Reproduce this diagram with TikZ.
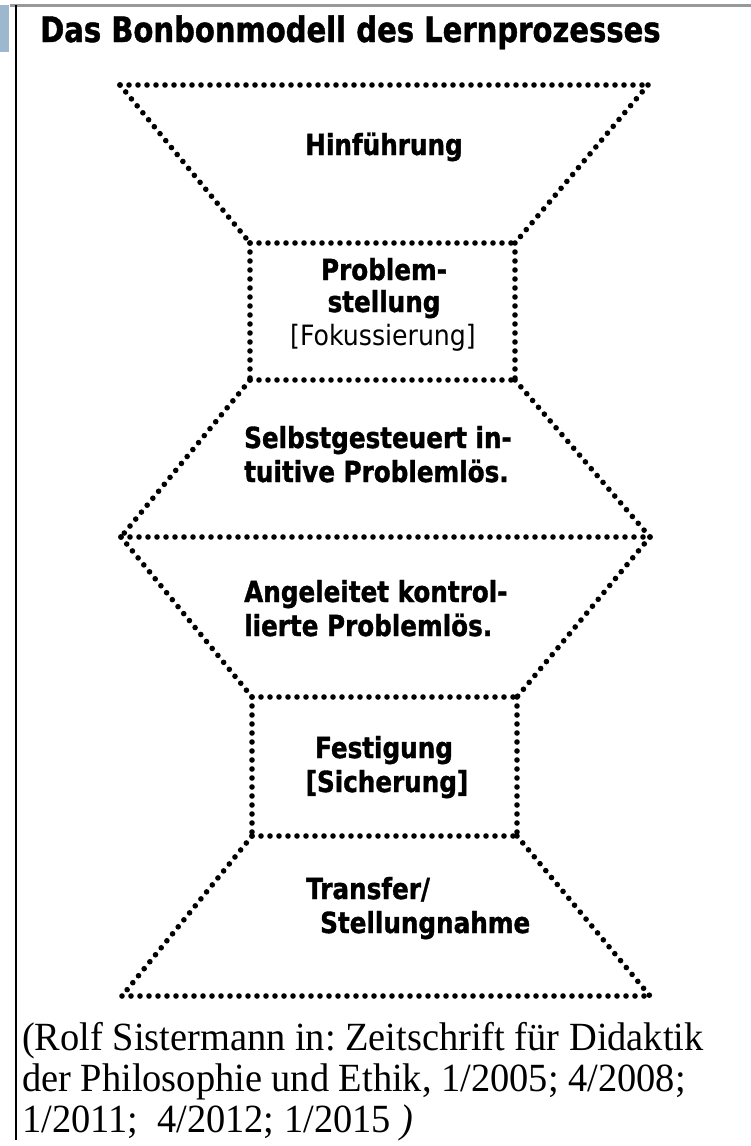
\documentclass[tikz,border=0pt]{standalone}
\usepackage{fontspec}
\setmainfont{Liberation Serif}[FakeStretch=0.96]
\newfontfamily\stagefont{DejaVu Sans Bold}[FakeStretch=0.85,FakeBold=1.2]
\newfontfamily\stageplain{DejaVu Sans}[FakeStretch=0.9]
\newfontfamily\titlefont{DejaVu Sans Bold}[FakeStretch=0.83,FakeBold=1.2]
\frenchspacing
\begin{document}
\begin{tikzpicture}[x=1pt,y=-1pt]
\tikzset{
  dotline/.style={line width=5.6pt, line cap=round, dash pattern=on 0pt off 9pt},
  stagetext/.style={font=\stagefont\fontsize{29}{32}\selectfont, inner sep=0pt, anchor=base},
  stageleft/.style={stagetext, anchor=base west},
  plaintext/.style={font=\stageplain\fontsize{28}{30}\selectfont, inner sep=0pt, anchor=base},
  cite/.style={font=\fontsize{40}{41}\selectfont, inner sep=0pt, anchor=base west},
}
\useasboundingbox (0,0) rectangle (751,1146);
\fill[white] (0,0) rectangle (751,1146);

% page frame: tab, top rule and left rule
\fill[fill={rgb,255:red,157;green,183;blue,207}] (0,5) rectangle (9,52);
\draw[line width=3pt, color=black!40] (10,5) -- (751,5);
\draw[line width=2pt] (16,5) -- (16,1140);

% title
\node[font=\titlefont\fontsize{35}{38}\selectfont, inner sep=0pt, anchor=base west]
  (title) at (40,42) {Das Bonbonmodell des Lernprozesses};

% outline corners
\coordinate (a1) at (120,85);  \coordinate (a2) at (648,85);
\coordinate (b1) at (250,243); \coordinate (b2) at (515,243);
\coordinate (c1) at (250,380); \coordinate (c2) at (515,380);
\coordinate (d1) at (121,537); \coordinate (d2) at (650,537);
\coordinate (e1) at (252,697); \coordinate (e2) at (517,697);
\coordinate (f1) at (252,836); \coordinate (f2) at (517,836);
\coordinate (g1) at (122,996); \coordinate (g2) at (650,996);

% dotted outline, one stroke per edge
\draw[dotline] (a1) -- (a2);
\draw[dotline] (a1) -- (b1);
\draw[dotline] (a2) -- (b2);
\draw[dotline] (b1) -- (b2);
\draw[dotline] (b1) -- (c1);
\draw[dotline] (b2) -- (c2);
\draw[dotline] (c1) -- (c2);
\draw[dotline] (c1) -- (d1);
\draw[dotline] (c2) -- (d2);
\draw[dotline] (d1) -- (d2);
\draw[dotline] (d1) -- (e1);
\draw[dotline] (d2) -- (e2);
\draw[dotline] (e1) -- (e2);
\draw[dotline] (e1) -- (f1);
\draw[dotline] (e2) -- (f2);
\draw[dotline] (f1) -- (f2);
\draw[dotline] (f1) -- (g1);
\draw[dotline] (f2) -- (g2);
\draw[dotline] (g1) -- (g2);

% stage labels
\node[stagetext] (hin) at (384,155) {Hinführung};

\node[stagetext] (prob1) at (384,280) {Problem-};
\node[stagetext] (prob2) at (384,312) {stellung};
\node[plaintext] (prob3) at (383,345) {[Fokussierung]};

\node[stageleft] (selb1) at (244,448) {Selbstgesteuert in-};
\node[stageleft] (selb2) at (244,482) {tuitive Problemlös.};

\node[stageleft] (ang1) at (244,602) {Angeleitet kontrol-};
\node[stageleft] (ang2) at (244,636) {lierte Problemlös.};

\node[stagetext] (fest1) at (384,758) {Festigung};
\node[stagetext] (fest2) at (387,792) {[Sicherung]};

\node[stageleft] (trans1) at (306,899) {Transfer/};
\node[stageleft] (trans2) at (320,933) {Stellungnahme};

% source
\node[cite] (src1) at (22,1050) {(Rolf Sistermann in: Zeitschrift für Didaktik};
\node[cite] (src2) at (22,1091) {der Philosophie und Ethik, 1/2005; 4/2008;};
\node[cite] (src3) at (22,1132) {1/2011;\ \ 4/2012; 1/2015 \textit{)}};
\end{tikzpicture}
\end{document}
